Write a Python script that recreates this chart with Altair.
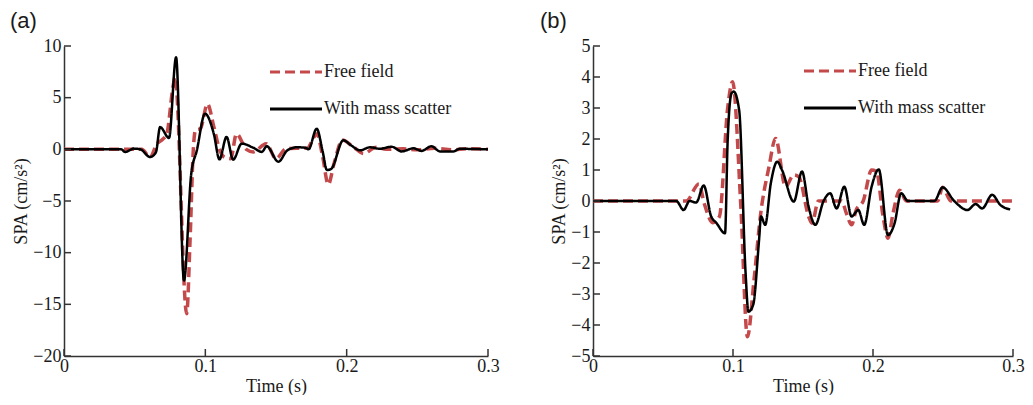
import altair as alt
import pandas as pd

series_names = ["Free field", "With mass scatter"]
x_ticks = [0, 0.1, 0.2, 0.3]
y_ticks_a = [-20, -15, -10, -5, 0, 5, 10]
y_ticks_b = [-5, -4, -3, -2, -1, 0, 1, 2, 3, 4, 5]

# ---- panel (a) ----
t_a_free = [0, 0.040, 0.055, 0.061, 0.0656, 0.070, 0.0727, 0.0774, 0.0786, 0.0868,
            0.0892, 0.0915, 0.0930, 0.0965, 0.1015, 0.106, 0.110, 0.114, 0.118, 0.122,
            0.129, 0.134, 0.143, 0.150, 0.157, 0.165, 0.172, 0.177, 0.179, 0.183,
            0.187, 0.191, 0.197, 0.205, 0.212, 0.221, 0.228, 0.240, 0.250, 0.262,
            0.275, 0.285, 0.300]
v_a_free = [0, 0, 0, -0.75, 0.5, 1.0, 1.5, 6.3, 7.0, -15.9,
            -8.8, 0.0, 1.85, 2.0, 4.4, 2.2, 0.0, -0.8, -0.9, 1.5,
            0.0, -0.25, 0.55, -0.9, 0.05, 0.1, 0.1, 1.2, 1.5, -0.7,
            -3.4, -1.4, 0.9, 0.2, -0.4, 0.2, 0.0, 0.05, -0.05, 0.1,
            -0.05, 0.05, 0.0]

t_a_mass = [0, 0.0405, 0.0432, 0.047, 0.049, 0.054, 0.0609, 0.065, 0.068, 0.0743,
            0.0793, 0.0849, 0.090, 0.094, 0.0998, 0.106, 0.110, 0.115, 0.1197, 0.1257,
            0.134, 0.140, 0.1434, 0.1517, 0.158, 0.165, 0.171, 0.173, 0.1788, 0.183,
            0.186, 0.189, 0.1976, 0.2035, 0.2094, 0.2165, 0.2236, 0.2318, 0.239, 0.2472,
            0.253, 0.260, 0.266, 0.2755, 0.280, 0.300]
v_a_mass = [0, 0, -0.26, -0.05, 0.07, 0, -0.74, -0.3, 2.15, 1.1,
            8.9, -12.7, -2.4, -0.1, 3.45, 1.5, -0.97, 1.2, -1.0, 0.55,
            0.15, -0.25, 0.3, -1.2, -0.1, 0.2, 0.15, 0.0, 2.0, -0.2,
            -2.0, -1.9, 0.87, 0.35, -0.1, 0.2, 0.05, 0.25, -0.2, 0.1,
            -0.15, 0.3, -0.2, -0.2, 0.05, 0.0]

# ---- panel (b) ----
t_b_free = [0, 0.0666, 0.0756, 0.0796, 0.0855, 0.0903, 0.0962, 0.0997, 0.1056, 0.1103,
            0.115, 0.1198, 0.1257, 0.1304, 0.1375, 0.1434, 0.147, 0.154, 0.1564, 0.161,
            0.1776, 0.181, 0.1847, 0.188, 0.193, 0.199, 0.2025, 0.2072, 0.2107, 0.2143,
            0.219, 0.2238, 0.2462, 0.2497, 0.2556, 0.300]
v_b_free = [0, 0, 0.55, -0.1, -0.7, -0.5, 3.0, 3.85, -0.18, -4.38,
            -2.55, -0.4, 1.1, 2.02, 0.46, 0.84, 0.78, -0.5, -0.72, 0.0,
            0.0, -0.4, -0.77, -0.29, 0.0, 1.0, 0.95, -0.5, -1.2, -0.4,
            0.35, 0.0, 0.0, 0.44, 0.0, 0.0]

t_b_mass = [0, 0.0595, 0.0647, 0.069, 0.0737, 0.0791, 0.0844, 0.088, 0.0943, 0.0962,
            0.099, 0.1005, 0.1044, 0.109, 0.111, 0.1144, 0.1186, 0.120, 0.123, 0.127,
            0.1316, 0.135, 0.1434, 0.1493, 0.154, 0.1588, 0.1647, 0.1694, 0.174, 0.1795,
            0.1847, 0.1895, 0.1937, 0.199, 0.2041, 0.2107, 0.2154, 0.2201, 0.225, 0.2438,
            0.2497, 0.258, 0.2674, 0.2733, 0.278, 0.2851, 0.291, 0.298]
v_b_mass = [0, 0, -0.29, 0.0, -0.05, 0.5, -0.5, -0.7, -1.04, 1.97,
            3.48, 3.53, 2.93, -2.33, -3.57, -3.35, -1.26, -0.5, -0.77, 0.57,
            1.27, 1.0, -0.02, 0.95, -0.18, -0.77, 0.0, 0.25, -0.24, 0.46,
            -0.5, -0.29, -0.77, 0.46, 1.02, -1.1, -0.72, 0.25, 0.0, 0.0,
            0.44, 0.0, -0.29, -0.1, -0.24, 0.2, -0.13, -0.27]

RED = "#C4494B"
H = 310
SERIF = "Liberation Serif"
TXT = "#1a1a1a"
AX = "#333333"


def long_df(t1, v1, t2, v2):
    return pd.DataFrame({
        "t": t1 + t2,
        "v": v1 + v2,
        "series": [series_names[0]] * len(t1) + [series_names[1]] * len(t2),
    })


def panel(df, yticks, ydom, label, dx, lx, ly, W):
    xaxis = alt.Axis(values=x_ticks, labelExpr="datum.value == 0 ? '0' : format(datum.value, '.1f')",
                     ticks=False, grid=False, domainColor=AX, domainWidth=1.5, labelFlush=False,
                     labelFont=SERIF, labelFontSize=18, labelColor=TXT, labelPadding=1,
                     titleFont=SERIF, titleFontSize=18, titleFontWeight="normal", titleColor=TXT,
                     titlePadding=2)
    yaxis = alt.Axis(values=yticks, format="d", ticks=False, grid=False, domainColor=AX, domainWidth=1.5,
                     labelFlush=False,
                     labelFont=SERIF, labelFontSize=18, labelColor=TXT, labelPadding=3,
                     titleFont=SERIF, titleFontSize=18, titleFontWeight="normal", titleColor=TXT,
                     titlePadding=2)
    xscale = alt.Scale(domain=[0, 0.3], nice=False, zero=False)
    yscale = alt.Scale(domain=ydom, nice=False)
    leg = alt.Legend(title=None, orient="none", legendX=lx, legendY=ly, symbolType="stroke",
                     symbolSize=2704, symbolStrokeWidth=3.2, labelFont=SERIF, labelFontSize=18,
                     labelColor=TXT, labelOffset=0, rowPadding=-8, padding=0)
    lines = alt.Chart(df).mark_line(interpolate="monotone", strokeCap="butt").encode(
        x=alt.X("t:Q", scale=xscale, axis=xaxis, title="Time (s)"),
        y=alt.Y("v:Q", scale=yscale, axis=yaxis, title="SPA (cm/s²)"),
        color=alt.Color("series:N", scale=alt.Scale(domain=series_names, range=[RED, "#000000"]), legend=leg),
        strokeDash=alt.StrokeDash("series:N", scale=alt.Scale(domain=series_names, range=[[10, 5], [1, 0]]), legend=leg),
        strokeWidth=alt.condition(alt.datum.series == series_names[0], alt.value(3.5), alt.value(2.5)),
    )
    ytick = alt.Chart(pd.DataFrame({"v": yticks})).mark_rule(color=AX, strokeWidth=1.5).encode(
        y=alt.Y("v:Q", scale=yscale, axis=yaxis, title="SPA (cm/s²)"), x=alt.value(0), x2=alt.value(7))
    xtick = alt.Chart(pd.DataFrame({"t": x_ticks})).mark_rule(color=AX, strokeWidth=1.5).encode(
        x=alt.X("t:Q", scale=xscale, axis=xaxis, title="Time (s)"), y=alt.value(H), y2=alt.value(H - 7))
    return alt.layer(lines, ytick, xtick).properties(
        width=W, height=H,
        title=alt.TitleParams(label, anchor="start", frame="group", dx=dx, font="Liberation Sans", fontSize=22,
                              fontWeight="normal", color=TXT, offset=4),
    )


pa = panel(long_df(t_a_free, v_a_free, t_a_mass, v_a_mass), y_ticks_a, [-20, 10], "(a)", -54, 204, -2, 424)
pb = panel(long_df(t_b_free, v_b_free, t_b_mass, v_b_mass), y_ticks_b, [-5, 5], "(b)", -53, 209, -3, 420)

chart = alt.hconcat(pa, pb, spacing=40).resolve_scale(
    color="independent", strokeDash="independent"
).resolve_legend(color="independent", strokeDash="independent").configure_view(stroke=None).properties(
    padding={"left": 2, "top": 2, "right": 0, "bottom": 0}
)

chart.save("out.html", embed_options={"renderer": "svg", "actions": False})
